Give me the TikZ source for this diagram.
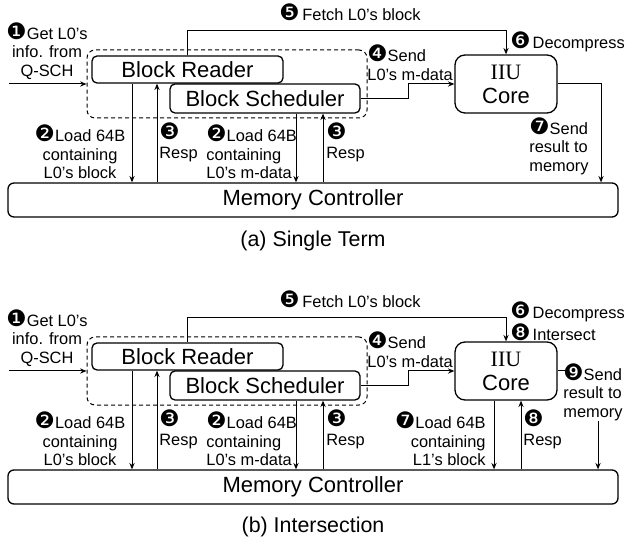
\documentclass[tikz,border=0pt]{standalone}
\usepackage{fontspec}
\setmainfont{Liberation Sans}
\newfontfamily\serifcore{Liberation Serif}
\newfontfamily\dingfont[Scale=1.38]{DejaVu Sans}
\usetikzlibrary{arrows.meta}

% step markers (negative circled digits)
\newcommand{\nb}[1]{{\dingfont #1}}

\tikzset{
  unit/.style={draw, rounded corners=2.5pt, line width=0.65pt, inner sep=0pt,
    font=\fontsize{11}{12}\selectfont},
  lbl/.style={inner sep=0pt, font=\fontsize{8.2}{9.3}\selectfont},
  link/.style={line width=0.5pt},
  arr/.style={link, -{Stealth[length=3.2pt,width=2.6pt]}},
}

% front end, IIU core and memory controller shared by both panels
\newcommand{\frontend}{%
  \node[unit, dashed, dash pattern=on 2pt off 1.5pt, line width=0.5pt,
    rounded corners=4pt, minimum width=140pt, minimum height=34pt] (fe) at (227,84) {};
  \node[unit, minimum width=95.5pt, minimum height=13.5pt] (reader) at (187.5,69.5) {Block Reader};
  \node[unit, minimum width=95pt, minimum height=14.5pt] (sched) at (265,98.5) {Block Scheduler};
  \node[unit, rounded corners=5pt, align=center, minimum width=51pt, minimum height=29pt]
    (core) at (506,84) {{\serifcore IIU}\\Core};
  \node[unit, rounded corners=3pt, minimum width=305pt, minimum height=17pt]
    (mc) at (313,200) {Memory Controller};
  % labels
  \node[lbl, align=center] (get) at (47,51) {\nb{❶}Get L0’s\\info. from\\Q-SCH};
  \node[lbl, align=center] (lda) at (80,152) {\nb{❷}Load 64B\\containing\\L0’s block};
  \node[lbl, align=left, anchor=west] (rspa) at (159,142.5) {\nb{❸}\\Resp};
  \node[lbl, align=left, anchor=west] (ldb) at (206,152) {\nb{❷}Load 64B\\containing\\L0’s m-data};
  \node[lbl, align=left, anchor=west] (rspb) at (326,142.5) {\nb{❸}\\Resp};
  \node[lbl, align=left, anchor=west] (send) at (367,62.5) {\nb{❹}Send\\L0’s m-data};
  \node[lbl, anchor=west] (fetch) at (279,12) {\nb{❺}\,Fetch L0’s block};
  % connectors
  \coordinate (qsch) at (9,84);
  \draw[arr] (qsch) -- (fe.west);
  \foreach \blk/\dn/\up in {reader/132/157, sched/296/323} {
    \coordinate (d) at (\dn,0);
    \coordinate (u) at (\up,0);
    \draw[arr] (d |- \blk.south) -- (d |- mc.north);
    \draw[arr] (u |- mc.north) -- (u |- \blk.south);
  }
  \draw[arr] (reader.north) -- ++(0,-25) -| (core.north);
  \draw[arr] (sched.east) -- ++(48,0) |- (core.west);
}

\begin{document}
\begin{tikzpicture}[x=0.5pt, y=-0.5pt]
  \useasboundingbox (0,0) rectangle (625,544);

  % (a) single term
  \begin{scope}[name prefix=a-]
    \frontend
    \node[lbl, anchor=west] (dec) at (510,42) {\nb{❻}\kern1pt Decompress};
    \node[lbl, align=left, anchor=west] (res) at (529,146) {\nb{❼}Send\\result to\\memory};
    \coordinate (out) at (601,0);
    \draw[arr] (core.east) -| (out |- mc.north);
    \node[font=\fontsize{10.7}{12}\selectfont] (cap) at (313,241) {(a) Single Term};
  \end{scope}

  % (b) intersection
  \begin{scope}[yshift=-143.5pt, name prefix=b-]
    \frontend
    \node[lbl, align=left, anchor=west, font=\fontsize{8.2}{10}\selectfont]
      (dec) at (510,34) {\nb{❻}\kern1pt Decompress\\\nb{❽}\kern1pt Intersect};
    % second list fetched by the core itself
    \coordinate (cd) at (494,0);
    \coordinate (cu) at (521,0);
    \draw[arr] (cd |- core.south) -- (cd |- mc.north);
    \draw[arr] (cu |- mc.north) -- (cu |- core.south);
    \node[lbl, align=right, anchor=east] (ldc) at (486,152) {\nb{❼}Load 64B\\containing\\L1’s block};
    \node[lbl, align=left, anchor=west] (rspc) at (523,142.5) {\nb{❽}\\Resp};
    \node[lbl, align=left, anchor=west] (res) at (563,105) {\nb{❾}Send\\result to\\memory};
    \coordinate (out) at (598,0);
    \draw[link] (core.east) -- ++(9,0);
    \draw[arr] (out |- res.south) -- (out |- mc.north);
    \node[font=\fontsize{10.7}{12}\selectfont] (cap) at (313,240) {(b) Intersection};
  \end{scope}
\end{tikzpicture}
\end{document}
